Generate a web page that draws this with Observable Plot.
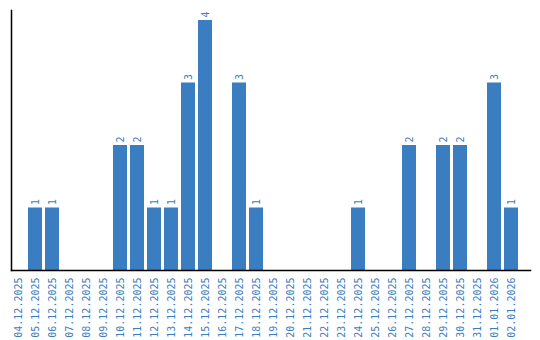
<!DOCTYPE html>
<html>
<head>
<meta charset="utf-8">
<script src="https://cdn.jsdelivr.net/npm/d3@7"></script>
<script src="https://cdn.jsdelivr.net/npm/@observablehq/plot@0.6"></script>
<style>
  html, body { margin: 0; padding: 0; background: #fff; }
</style>
</head>
<body>
<div id="chart"></div>
<script>
const dates = ["04.12.2025","05.12.2025","06.12.2025","07.12.2025","08.12.2025","09.12.2025","10.12.2025","11.12.2025","12.12.2025","13.12.2025","14.12.2025","15.12.2025","16.12.2025","17.12.2025","18.12.2025","19.12.2025","20.12.2025","21.12.2025","22.12.2025","23.12.2025","24.12.2025","25.12.2025","26.12.2025","27.12.2025","28.12.2025","29.12.2025","30.12.2025","31.12.2025","01.01.2026","02.01.2026"];
const counts = [0,1,1,0,0,0,2,2,1,1,3,4,0,3,1,0,0,0,0,0,1,0,0,2,0,2,2,0,3,1];

const data = dates.map((d, i) => ({date: d, count: counts[i]}));
const blue = "#3b7dc1";
const font = "DejaVu Sans Mono, monospace";

const chart = Plot.plot({
  width: 540,
  height: 340,
  marginLeft: 11,
  marginRight: 10,
  marginTop: 10,
  marginBottom: 70,
  style: {fontFamily: font, fontSize: "10px", background: "#fff"},
  x: {domain: dates, range: [11, 518], paddingInner: 0.18, paddingOuter: 0},
  y: {domain: [0, 4.16], axis: null},
  marks: [
    Plot.barY(data, {x: "date", y: "count", fill: blue}),
    Plot.text(data.filter(d => d.count > 0), {
      x: "date", y: "count", text: d => String(d.count),
      rotate: -90, textAnchor: "start", dy: -3, fill: blue,
      fontFamily: font, fontSize: 10
    }),
    Plot.axisX({tickSize: 0, tickRotate: -90, tickPadding: 7, fill: blue, label: null, fontFamily: font, fontSize: 10}),
    Plot.frame({anchor: "left", stroke: "#000", strokeWidth: 1.5}),
    Plot.frame({anchor: "bottom", stroke: "#000", strokeWidth: 1.5})
  ]
});
document.getElementById("chart").appendChild(chart);
</script>
</body>
</html>
